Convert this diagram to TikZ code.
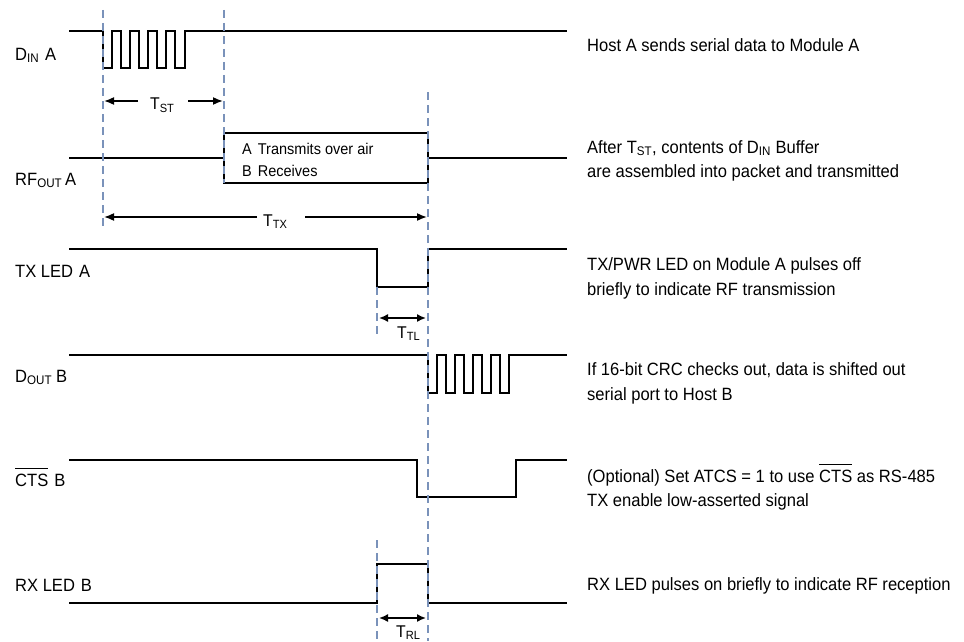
\documentclass[tikz,border=0pt]{standalone}
\usepackage{fontspec}
\setmainfont{Liberation Sans}[FakeStretch=0.93]
\usetikzlibrary{arrows.meta}
\definecolor{dashblue}{RGB}{122,146,186}
\newcommand\sbs[1]{\textsubscript{#1}}
\newcommand\ovl[1]{\setbox0\hbox{#1}\rlap{\rule[\dimexpr\ht0+4.5pt\relax]{\wd0}{1.2pt}}\box0\relax}
\begin{document}
\begin{tikzpicture}[x=1pt,y=-1pt,
  sig/.style={line width=2.6pt, line join=miter},
  vguide/.style={dashblue, line width=2pt, dash pattern=on 8pt off 5pt},
  lbl/.style={anchor=base west, inner sep=0pt, font=\fontsize{17.8}{20}\selectfont},
  desc/.style={anchor=base west, inner sep=0pt, font=\fontsize{17.8}{20}\selectfont},
  tlab/.style={anchor=base west, inner sep=0pt, font=\fontsize{17}{18}\selectfont},
  boxtxt/.style={anchor=base west, inner sep=0pt, font=\fontsize{15.6}{18}\selectfont},
  dim/.style={line width=1.6pt, -{Latex[length=10pt,width=8pt]}},
  dimb/.style={line width=1.6pt, {Latex[length=9pt,width=8pt]}-{Latex[length=9pt,width=8pt]}},
]
\useasboundingbox (0,0) rectangle (964,642);

% ---- left signal labels
\node[lbl] (lDin) at (15,60) {D\sbs{IN}\hspace{6pt}A};
\node[lbl] (lRf) at (15,185) {RF\sbs{OUT}\hspace{3pt}A};
\node[lbl] (lTx) at (15,277) {TX LED\hspace{6pt}A};
\node[lbl] (lDout) at (15,382) {D\sbs{OUT}\hspace{4pt}B};
\node[lbl] (lCts) at (15,486) {\ovl{CTS}\hspace{6pt}B};
\node[lbl] (lRx) at (15,591) {RX LED\hspace{6pt}B};

% ---- signals
\draw[sig] (69,31) -- (103,31) -- (103,68) -- (112,68) -- (112,31) -- (121,31) -- (121,68)
  -- (130,68) -- (130,31) -- (139,31) -- (139,68) -- (148,68) -- (148,31) -- (157,31)
  -- (157,68) -- (166,68) -- (166,31) -- (175,31) -- (175,68) -- (185,68) -- (185,31) -- (567,31);

\node[sig, draw, minimum width=204pt, minimum height=50pt, inner sep=0pt] (rfbox) at (326,158) {};
\draw[sig] (69,158) -- (rfbox.west);
\draw[sig] (rfbox.east) -- (567,158);
\node[boxtxt] (bA) at (242,154) {A\hspace{6pt}Transmits over air};
\node[boxtxt] (bB) at (242,176) {B\hspace{6pt}Receives};

\draw[sig] (69,249) -- (377,249) -- (377,287) -- (428,287) -- (428,249) -- (567,249);

\draw[sig] (69,355) -- (428,355) -- (428,393) -- (437,393) -- (437,355) -- (446,355) -- (446,393)
  -- (455,393) -- (455,355) -- (464,355) -- (464,393) -- (473,393) -- (473,355) -- (482,355)
  -- (482,393) -- (491,393) -- (491,355) -- (500,355) -- (500,393) -- (509,393) -- (509,355) -- (567,355);

\draw[sig] (69,460) -- (417,460) -- (417,497) -- (516,497) -- (516,460) -- (567,460);

\draw[sig] (69,603) -- (377,603) -- (377,564) -- (428,564) -- (428,603) -- (567,603);

% ---- dashed guides
\draw[vguide] (103,10) -- (103,230);
\draw[vguide] (224,10) -- (224,183);
\draw[vguide] (428,92) -- (428,641);
\draw[vguide] (377,287) -- (377,337);
\draw[vguide] (377,540) -- (377,641);

% ---- timing dimensions
\node[tlab] (tst) at (150,110) {T\sbs{ST}};
\coordinate (tstL) at (104,101);
\coordinate (tstR) at (223,101);
\draw[dim] (138,101) -- (tstL);
\draw[dim] (188,101) -- (tstR);

\node[tlab] (ttx) at (263,226) {T\sbs{TX}};
\coordinate (ttxL) at (104,217);
\coordinate (ttxR) at (427,217);
\draw[dim] (257,217) -- (ttxL);
\draw[dim] (305,217) -- (ttxR);

\coordinate (ttlL) at (379,318);
\coordinate (ttlR) at (426,318);
\draw[dimb] (ttlL) -- (ttlR);
\node[tlab] (ttl) at (397,338) {T\sbs{TL}};

\coordinate (trlL) at (379,618);
\coordinate (trlR) at (426,618);
\draw[dimb] (trlL) -- (trlR);
\node[tlab] (trl) at (396,637) {T\sbs{RL}};

% ---- descriptions
\node[desc] (d1) at (587,52) {Host A sends serial data to Module A};
\node[desc] (d2a) at (587,153) {After T\sbs{ST}, contents of D\sbs{IN} Buffer};
\node[desc] (d2b) at (587,177) {are assembled into packet and transmitted};
\node[desc] (d3a) at (587,270) {TX/PWR LED on Module A pulses off};
\node[desc] (d3b) at (587,295) {briefly to indicate RF transmission};
\node[desc] (d4a) at (587,375) {If 16-bit CRC checks out, data is shifted out};
\node[desc] (d4b) at (587,400) {serial port to Host B};
\node[desc] (d5a) at (587,482) {(Optional) Set ATCS = 1 to use \ovl{CTS} as RS-485};
\node[desc] (d5b) at (587,506) {TX enable low-asserted signal};
\node[desc] (d6) at (587,590) {RX LED pulses on briefly to indicate RF reception};
\end{tikzpicture}
\end{document}
